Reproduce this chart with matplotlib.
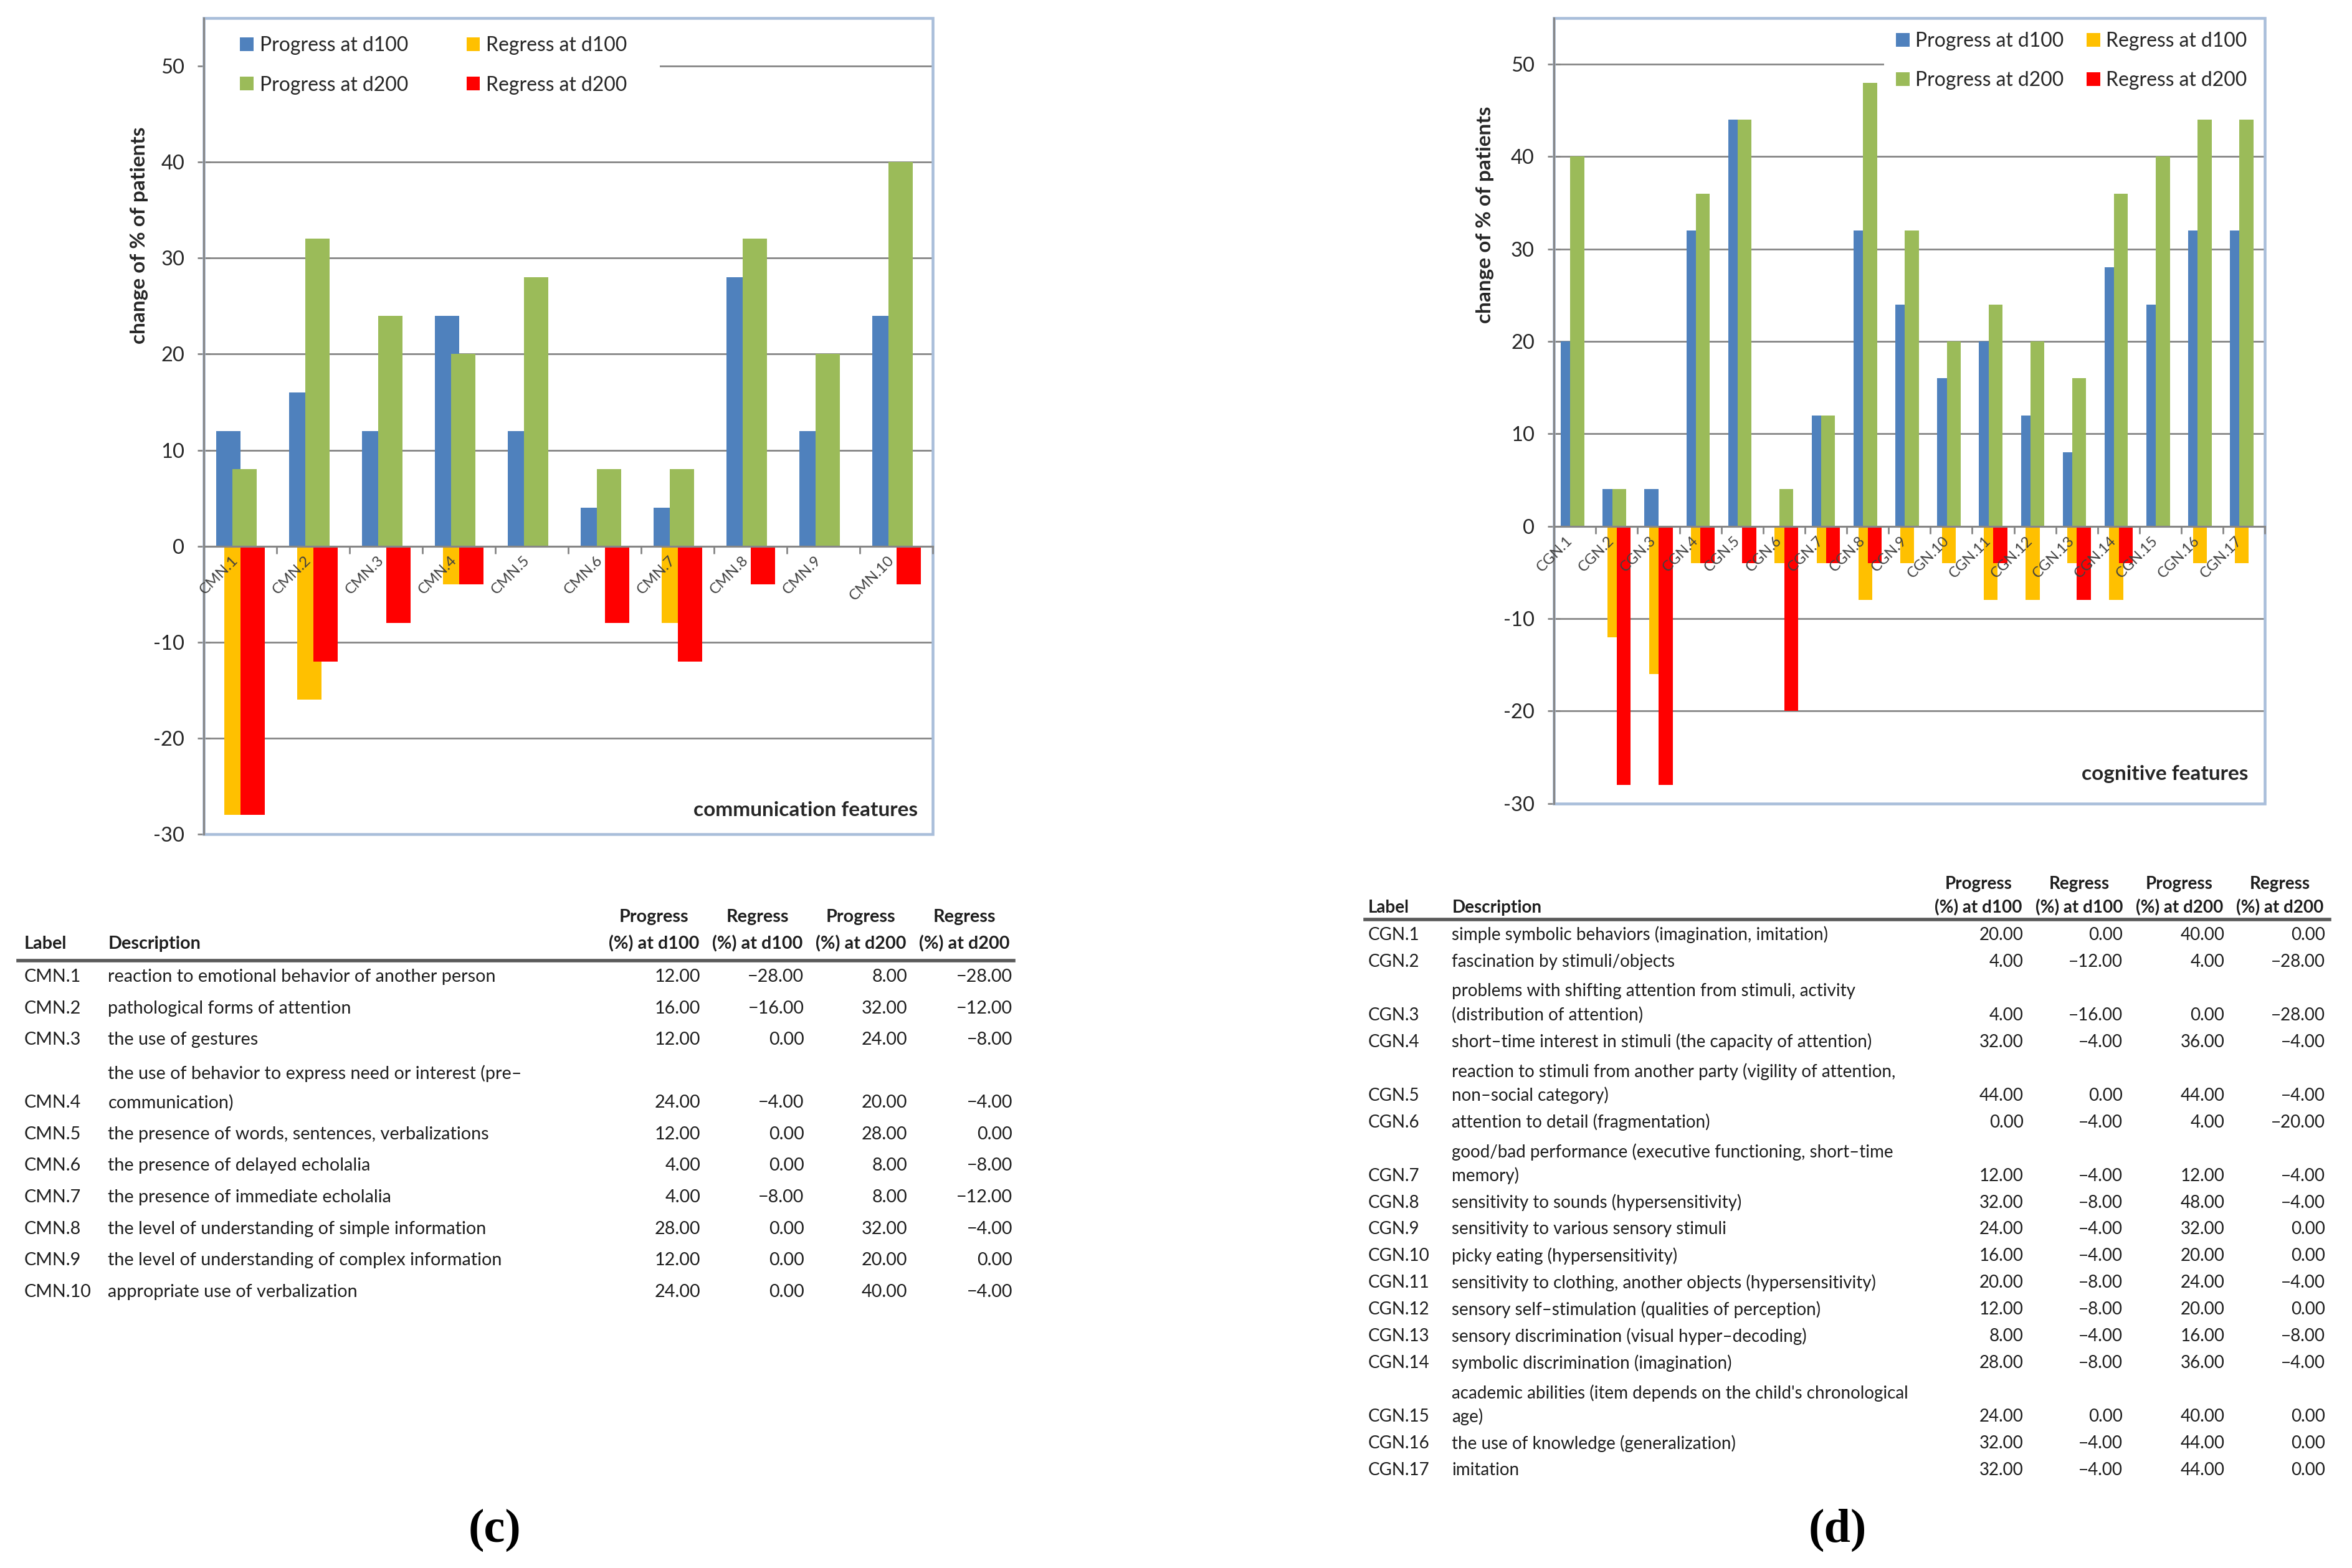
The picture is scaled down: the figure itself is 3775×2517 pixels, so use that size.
import numpy as np
import matplotlib
matplotlib.use("Agg")
import matplotlib.pyplot as plt
from matplotlib.patches import Patch, Rectangle
from matplotlib.lines import Line2D

plt.rcParams['font.family'] = ['Lato', 'DejaVu Sans']
plt.rcParams['axes.unicode_minus'] = False

# ---------------- data ----------------
series_names = ["Progress at d100", "Regress at d100", "Progress at d200", "Regress at d200"]
series_colors = ["#4F81BD", "#FFC000", "#9BBB59", "#FF0000"]

cmn_labels = ["CMN.1", "CMN.2", "CMN.3", "CMN.4", "CMN.5",
              "CMN.6", "CMN.7", "CMN.8", "CMN.9", "CMN.10"]
cmn_prog_d100 = [12, 16, 12, 24, 12, 4, 4, 28, 12, 24]
cmn_regr_d100 = [-28, -16, 0, -4, 0, 0, -8, 0, 0, 0]
cmn_prog_d200 = [8, 32, 24, 20, 28, 8, 8, 32, 20, 40]
cmn_regr_d200 = [-28, -12, -8, -4, 0, -8, -12, -4, 0, -4]
cmn_desc = [
    "reaction to emotional behavior of another person",
    "pathological forms of attention",
    "the use of gestures",
    "the use of behavior to express need or interest (pre\u2013\ncommunication)",
    "the presence of words, sentences, verbalizations",
    "the presence of delayed echolalia",
    "the presence of immediate echolalia",
    "the level of understanding of simple information",
    "the level of understanding of complex information",
    "appropriate use of verbalization",
]

cgn_labels = ["CGN.%d" % i for i in range(1, 18)]
cgn_prog_d100 = [20, 4, 4, 32, 44, 0, 12, 32, 24, 16, 20, 12, 8, 28, 24, 32, 32]
cgn_regr_d100 = [0, -12, -16, -4, 0, -4, -4, -8, -4, -4, -8, -8, -4, -8, 0, -4, -4]
cgn_prog_d200 = [40, 4, 0, 36, 44, 4, 12, 48, 32, 20, 24, 20, 16, 36, 40, 44, 44]
cgn_regr_d200 = [0, -28, -28, -4, -4, -20, -4, -4, 0, 0, -4, 0, -8, -4, 0, 0, 0]
cgn_desc = [
    "simple symbolic behaviors (imagination, imitation)",
    "fascination by stimuli/objects",
    "problems with shifting attention from stimuli, activity\n(distribution of attention)",
    "short\u2013time interest in stimuli (the capacity of attention)",
    "reaction to stimuli from another party (vigility of attention,\nnon\u2013social category)",
    "attention to detail (fragmentation)",
    "good/bad performance (executive functioning, short\u2013time\nmemory)",
    "sensitivity to sounds (hypersensitivity)",
    "sensitivity to various sensory stimuli",
    "picky eating (hypersensitivity)",
    "sensitivity to clothing, another objects (hypersensitivity)",
    "sensory self\u2013stimulation (qualities of perception)",
    "sensory discrimination (visual hyper\u2013decoding)",
    "symbolic discrimination (imagination)",
    "academic abilities (item depends on the child's chronological\nage)",
    "the use of knowledge (generalization)",
    "imitation",
]

hdr_top = ["Progress", "Regress", "Progress", "Regress"]
hdr_bot = ["(%) at d100", "(%) at d100", "(%) at d200", "(%) at d200"]

# ---------------- layout helpers ----------------
W, H = 1568.0, 1045.0


def fx(x):
    return x / W


def fy(y):
    return 1.0 - y / H


GRID = "#868686"
FRAME = "#A9BEDA"
TXT = "#262626"
TAB = "#1e1e1e"

fig = plt.figure(figsize=(15.1, 10.068), dpi=250)


def make_chart(box, labels, p100, r100, p200, r200, ylab_xy, feat_text, feat_xy,
               cover, leg_x, leg_cy, xt_fs):
    x0, y0, x1, y1 = box
    ax = fig.add_axes([fx(x0), fy(y1), fx(x1) - fx(x0), fy(y0) - fy(y1)])
    ax.spines['bottom'].set_position(('data', 0))
    n = len(labels)
    x = np.arange(n)
    width = 0.333
    step = 0.113
    offs = np.array([-1.5, -0.5, 0.5, 1.5]) * step
    for vals, off, col, name in zip([p100, r100, p200, r200], offs, series_colors, series_names):
        ax.bar(x + off, vals, width=width, color=col, linewidth=0, label=name, zorder=1)
    ax.set_xlim(-0.5, n - 0.5)
    ax.set_ylim(-30, 55)
    ax.set_yticks(np.arange(-30, 51, 10))
    ax.yaxis.grid(True, color=GRID, lw=0.8)
    ax.set_axisbelow(True)
    ax.xaxis.set_zorder(3)
    ax.set_xticks(x)
    ax.set_xticklabels(labels, rotation=45, ha='right', rotation_mode='default',
                       fontsize=xt_fs, color='#404040')
    ax.set_xticks(np.arange(n + 1) - 0.5, minor=True)
    ax.tick_params(axis='x', which='major', length=0, pad=3.5)
    ax.tick_params(axis='x', which='minor', length=3.5, width=0.8, color=GRID, direction='out')
    ax.tick_params(axis='y', length=6, width=0.8, color=GRID, direction='inout',
                   labelsize=9.4, labelcolor=TXT, pad=6)
    ax.spines['bottom'].set_color(GRID)
    ax.spines['bottom'].set_linewidth(0.9)
    ax.spines['left'].set_color(GRID)
    ax.spines['left'].set_linewidth(0.9)
    ax.spines['top'].set_visible(False)
    ax.spines['right'].set_visible(False)
    ax.add_patch(Rectangle((0, 0), 1, 1, transform=ax.transAxes, fill=False,
                           edgecolor=FRAME, lw=1.3, zorder=0.9, clip_on=False))
    # legend background (white box hiding gridline)
    cx0, cy0, cx1, cy1 = cover
    ax.add_patch(Rectangle((fx(cx0), fy(cy1)), fx(cx1) - fx(cx0), fy(cy0) - fy(cy1),
                           transform=fig.transFigure, facecolor='white', edgecolor='none',
                           zorder=0.8))
    handles = [Patch(facecolor=c, edgecolor='none') for c in series_colors]
    legs = []
    for lx, idxs in zip(leg_x, [(0, 2), (1, 3)]):
        leg = ax.legend([handles[i] for i in idxs], [series_names[i] for i in idxs],
                        loc='center left', bbox_to_anchor=(fx(lx), fy(leg_cy)),
                        bbox_transform=fig.transFigure, frameon=False, fontsize=9.2,
                        handlelength=0.68, handleheight=0.68, handletextpad=0.3,
                        labelspacing=1.05, borderpad=0, borderaxespad=0, labelcolor=TXT)
        legs.append(leg)
    ax.add_artist(legs[0])
    fig.text(fx(ylab_xy[0]), fy(ylab_xy[1]), "change of % of patients", rotation=90,
             ha='center', va='center', fontweight='bold', fontsize=9.6, color=TXT)
    fig.text(fx(feat_xy[0]), fy(feat_xy[1]), feat_text, ha='right', va='center',
             fontweight='bold', fontsize=9.6, color=TXT)
    return ax


def fmt(v):
    s = "%.2f" % abs(v)
    return ("\u2212" + s) if v < 0 else s


def make_table(labels, descs, cols, label_x, desc_x, col_centers, col_rights,
               h1_y, h2_y, line_y, line_x, row0_y, row_step, wrap_step, fs):
    kw = dict(fontsize=fs, color=TAB, va='center')
    fig.text(fx(label_x), fy(h2_y), "Label", fontweight='bold', ha='left', **kw)
    fig.text(fx(desc_x), fy(h2_y), "Description", fontweight='bold', ha='left', **kw)
    for c, t, b in zip(col_centers, hdr_top, hdr_bot):
        fig.text(fx(c), fy(h1_y), t, fontweight='bold', ha='center', **kw)
        fig.text(fx(c), fy(h2_y), b, fontweight='bold', ha='center', **kw)
    fig.add_artist(Line2D([fx(line_x[0]), fx(line_x[1])], [fy(line_y)] * 2,
                          transform=fig.transFigure, color='#5a5a5a', lw=1.6))
    y = row0_y - row_step
    for i, (lab, desc) in enumerate(zip(labels, descs)):
        lines = desc.split("\n")
        y += row_step * len(lines)
        for k, line in enumerate(lines):
            fig.text(fx(desc_x), fy(y - (len(lines) - 1 - k) * wrap_step), line, ha='left', **kw)
        fig.text(fx(label_x), fy(y), lab, ha='left', **kw)
        for col, r in zip(cols, col_rights):
            fig.text(fx(r), fy(y), fmt(col[i]), ha='right', **kw)


# ---------------- chart (c) ----------------
make_chart((136, 12, 622, 556), cmn_labels, cmn_prog_d100, cmn_regr_d100,
           cmn_prog_d200, cmn_regr_d200, ylab_xy=(93, 157),
           feat_text="communication features", feat_xy=(612, 540),
           cover=(136, 12, 440, 70), leg_x=(160, 311), leg_cy=43.5, xt_fs=7.0)

# ---------------- chart (d) ----------------
make_chart((1036, 12, 1510, 535.5), cgn_labels, cgn_prog_d100, cgn_regr_d100,
           cgn_prog_d200, cgn_regr_d200, ylab_xy=(990, 143),
           feat_text="cognitive features", feat_xy=(1499, 516),
           cover=(1256, 12, 1510, 66), leg_x=(1264, 1391), leg_cy=40.5, xt_fs=6.8)

# ---------------- tables ----------------
make_table(cmn_labels, cmn_desc, [cmn_prog_d100, cmn_regr_d100, cmn_prog_d200, cmn_regr_d200],
           label_x=16, desc_x=72, col_centers=[436, 505, 574, 643],
           col_rights=[467, 536, 605, 675], h1_y=611, h2_y=629, line_y=640,
           line_x=(12, 676), row0_y=651, row_step=21, wrap_step=19.5, fs=8.3)

make_table(cgn_labels, cgn_desc, [cgn_prog_d100, cgn_regr_d100, cgn_prog_d200, cgn_regr_d200],
           label_x=912, desc_x=968, col_centers=[1319, 1386, 1453, 1520],
           col_rights=[1349, 1415, 1483, 1550], h1_y=589, h2_y=605, line_y=613,
           line_x=(910, 1553), row0_y=623, row_step=17.85, wrap_step=16, fs=8.0)

# ---------------- panel labels ----------------
fig.text(fx(330), fy(1020), "(c)", family=['Liberation Serif', 'DejaVu Serif'],
         fontweight='bold', fontsize=22, ha='center', va='center', color='black')
fig.text(fx(1225), fy(1020), "(d)", family=['Liberation Serif', 'DejaVu Serif'],
         fontweight='bold', fontsize=22, ha='center', va='center', color='black')

fig.savefig("out.png", dpi=250)
